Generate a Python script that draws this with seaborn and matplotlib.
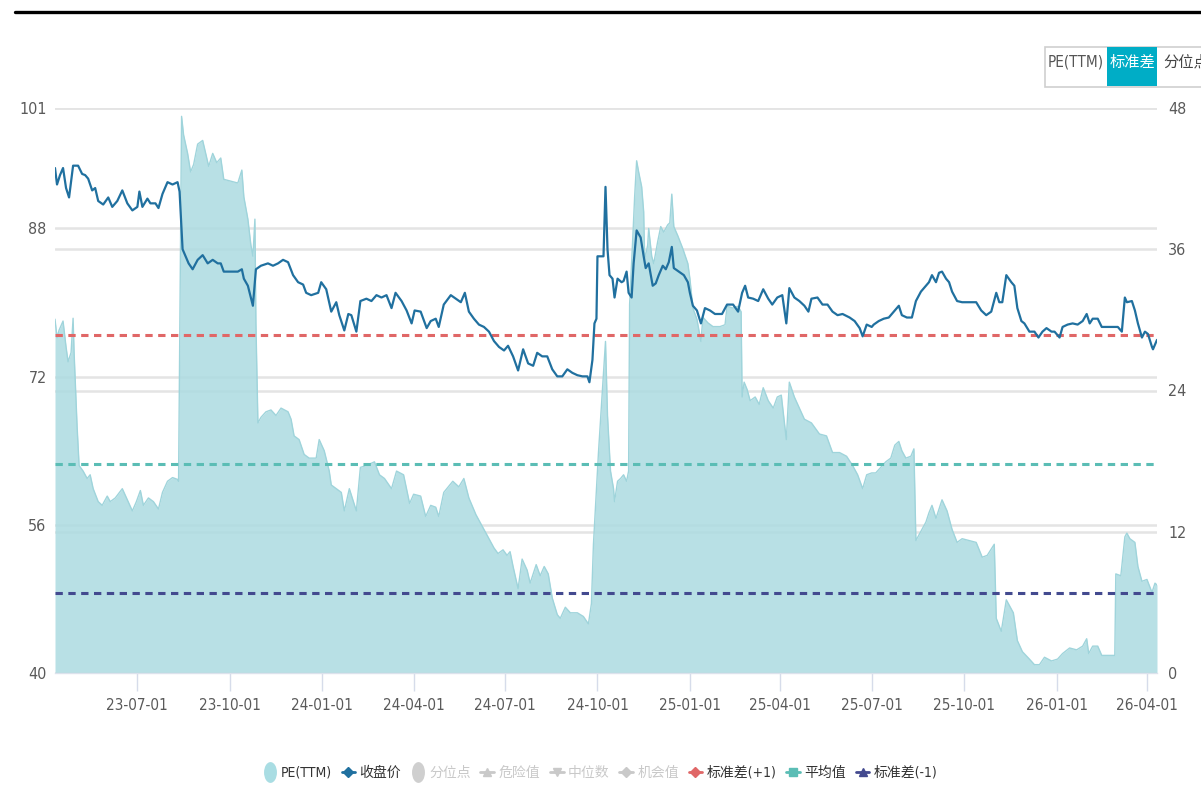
import matplotlib
matplotlib.use("Agg")
import matplotlib.pyplot as plt
import matplotlib.dates as mdates
from matplotlib.lines import Line2D
from matplotlib.patches import Rectangle
from matplotlib.path import Path
from matplotlib.transforms import Affine2D, blended_transform_factory
import seaborn as sns
import pandas as pd

sns.set_theme(style="white")
plt.rcParams["font.family"] = ["DejaVu Sans", "Noto Sans CJK SC"]
plt.rcParams["font.stretch"] = "condensed"

# ---------------- data ----------------
pe_dates = [
    "2023-04-10", "2023-04-12", "2023-04-14", "2023-04-18", "2023-04-21", "2023-04-23", "2023-04-26",
    "2023-04-28", "2023-04-29", "2023-05-02", "2023-05-04", "2023-05-08", "2023-05-12", "2023-05-15",
    "2023-05-18", "2023-05-23", "2023-05-27", "2023-06-01", "2023-06-04", "2023-06-09", "2023-06-16",
    "2023-06-21", "2023-06-26", "2023-06-30", "2023-07-04", "2023-07-07", "2023-07-12", "2023-07-17",
    "2023-07-22", "2023-07-26", "2023-07-31", "2023-08-05", "2023-08-10", "2023-08-11", "2023-08-14",
    "2023-08-16", "2023-08-20", "2023-08-23", "2023-08-26", "2023-08-30", "2023-09-04", "2023-09-07",
    "2023-09-10", "2023-09-14", "2023-09-18", "2023-09-22", "2023-09-25", "2023-10-02", "2023-10-09",
    "2023-10-13", "2023-10-15", "2023-10-19", "2023-10-22", "2023-10-24", "2023-10-26", "2023-10-27",
    "2023-10-29", "2023-11-01", "2023-11-06", "2023-11-11", "2023-11-16", "2023-11-21", "2023-11-28",
    "2023-12-01", "2023-12-04", "2023-12-09", "2023-12-14", "2023-12-19", "2023-12-26", "2023-12-29",
    "2024-01-03", "2024-01-08", "2024-01-10", "2024-01-20", "2024-01-23", "2024-01-28", "2024-02-04",
    "2024-02-08", "2024-02-14", "2024-02-22", "2024-02-27", "2024-03-03", "2024-03-10", "2024-03-15",
    "2024-03-22", "2024-03-28", "2024-04-01", "2024-04-08", "2024-04-13", "2024-04-18", "2024-04-23",
    "2024-04-26", "2024-05-01", "2024-05-10", "2024-05-16", "2024-05-21", "2024-05-26", "2024-06-02",
    "2024-06-07", "2024-06-14", "2024-06-20", "2024-06-24", "2024-06-29", "2024-07-03", "2024-07-06",
    "2024-07-09", "2024-07-14", "2024-07-18", "2024-07-23", "2024-07-26", "2024-08-01", "2024-08-05",
    "2024-08-09", "2024-08-13", "2024-08-17", "2024-08-22", "2024-08-25", "2024-08-30", "2024-09-04",
    "2024-09-11", "2024-09-17", "2024-09-22", "2024-09-25", "2024-09-27", "2024-10-02", "2024-10-06",
    "2024-10-09", "2024-10-11", "2024-10-14", "2024-10-17", "2024-10-18", "2024-10-21", "2024-10-24",
    "2024-10-27", "2024-10-30", "2024-11-01", "2024-11-02", "2024-11-05", "2024-11-07", "2024-11-09",
    "2024-11-11", "2024-11-14", "2024-11-16", "2024-11-17", "2024-11-20", "2024-11-21", "2024-11-24",
    "2024-11-26", "2024-11-30", "2024-12-03", "2024-12-06", "2024-12-10", "2024-12-12", "2024-12-14",
    "2024-12-16", "2024-12-20", "2024-12-25", "2024-12-30", "2025-01-01", "2025-01-04", "2025-01-08",
    "2025-01-12", "2025-01-14", "2025-01-19", "2025-01-24", "2025-01-31", "2025-02-05", "2025-02-07",
    "2025-02-13", "2025-02-18", "2025-02-21", "2025-02-22", "2025-02-24", "2025-02-27", "2025-03-02",
    "2025-03-07", "2025-03-11", "2025-03-15", "2025-03-20", "2025-03-25", "2025-03-29", "2025-04-02",
    "2025-04-07", "2025-04-10", "2025-04-15", "2025-04-20", "2025-04-25", "2025-05-02", "2025-05-10",
    "2025-05-17", "2025-05-23", "2025-05-30", "2025-06-06", "2025-06-12", "2025-06-17", "2025-06-22",
    "2025-06-26", "2025-07-01", "2025-07-05", "2025-07-10", "2025-07-15", "2025-07-20", "2025-07-24",
    "2025-07-28", "2025-07-31", "2025-08-04", "2025-08-09", "2025-08-12", "2025-08-14", "2025-08-19",
    "2025-08-24", "2025-08-27", "2025-08-30", "2025-09-03", "2025-09-09", "2025-09-14", "2025-09-19",
    "2025-09-24", "2025-09-29", "2025-10-06", "2025-10-13", "2025-10-19", "2025-10-24", "2025-10-31",
    "2025-11-02", "2025-11-07", "2025-11-12", "2025-11-15", "2025-11-19", "2025-11-23", "2025-11-28",
    "2025-12-05", "2025-12-10", "2025-12-15", "2025-12-20", "2025-12-27", "2026-01-02", "2026-01-07",
    "2026-01-14", "2026-01-21", "2026-01-27", "2026-01-31", "2026-02-02", "2026-02-06", "2026-02-11",
    "2026-02-15", "2026-02-23", "2026-02-28", "2026-03-01", "2026-03-06", "2026-03-10", "2026-03-12",
    "2026-03-15", "2026-03-20", "2026-03-23", "2026-03-27", "2026-04-01", "2026-04-06", "2026-04-09",
    "2026-04-11",
]
pe_values = [
    78.2, 76.2, 77.0, 78.0, 75.2, 73.6, 74.6,
    78.3, 74.6, 66.6, 62.4, 61.8, 61.0, 61.4,
    59.9, 58.5, 58.1, 59.1, 58.5, 58.9, 59.9,
    58.7, 57.5, 58.5, 59.7, 58.1, 58.9, 58.5,
    57.7, 59.5, 60.7, 61.1, 60.9, 60.7, 100.1,
    98.1, 96.1, 94.1, 94.9, 97.1, 97.5, 96.1,
    94.7, 96.1, 95.1, 95.6, 93.3, 93.1, 92.9,
    94.3, 91.4, 89.0, 86.2, 85.0, 89.0, 77.8,
    67.0, 67.6, 68.2, 68.4, 67.8, 68.6, 68.2,
    67.4, 65.6, 65.2, 63.6, 63.2, 63.2, 65.2,
    64.0, 61.8, 60.3, 59.5, 57.5, 59.9, 57.5,
    62.2, 62.4, 62.8, 61.4, 61.0, 59.9, 61.8,
    61.4, 58.3, 59.3, 59.1, 56.9, 58.1, 57.9,
    56.9, 59.5, 60.7, 60.1, 61.0, 58.9, 57.1,
    56.1, 54.7, 53.5, 52.9, 53.3, 52.7, 53.1,
    51.5, 49.1, 52.3, 51.1, 49.7, 51.7, 50.5,
    51.5, 50.7, 48.1, 46.3, 45.9, 47.1, 46.5,
    46.5, 46.1, 45.3, 47.5, 53.9, 63.8, 70.6,
    75.8, 67.8, 61.8, 59.9, 58.5, 60.7, 61.0,
    61.4, 60.7, 61.8, 79.8, 86.6, 91.4, 95.3,
    94.1, 92.5, 89.8, 84.6, 86.2, 88.0, 85.0,
    84.2, 86.6, 88.2, 87.6, 88.4, 88.6, 91.7,
    88.2, 87.2, 85.8, 84.2, 82.6, 79.4, 78.2,
    75.8, 78.4, 77.8, 77.4, 77.4, 77.6, 79.6,
    79.4, 79.6, 79.0, 69.8, 71.4, 70.6, 69.4,
    69.8, 69.0, 70.8, 69.4, 68.6, 69.8, 70.0,
    65.2, 71.4, 69.8, 68.6, 67.4, 67.0, 65.8,
    65.6, 63.8, 63.8, 63.4, 62.4, 61.4, 59.9,
    61.4, 61.6, 61.6, 62.2, 62.8, 63.2, 64.6,
    65.0, 64.0, 63.2, 63.4, 64.2, 54.3, 55.3,
    56.3, 57.3, 58.1, 56.7, 58.7, 57.5, 55.5,
    54.1, 54.5, 54.3, 54.1, 52.5, 52.7, 53.9,
    45.9, 44.5, 47.9, 47.3, 46.5, 43.5, 42.3,
    41.5, 40.9, 40.9, 41.7, 41.3, 41.5, 42.1,
    42.7, 42.5, 42.9, 43.7, 42.1, 42.9, 42.9,
    41.9, 41.9, 41.9, 50.7, 50.5, 54.7, 55.1,
    54.5, 54.1, 51.5, 49.9, 50.1, 48.7, 49.7,
    49.5,
]

price_dates = [
    "2023-04-10", "2023-04-12", "2023-04-15", "2023-04-18", "2023-04-21", "2023-04-24", "2023-04-28",
    "2023-05-03", "2023-05-07", "2023-05-10", "2023-05-13", "2023-05-17", "2023-05-20", "2023-05-23",
    "2023-05-28", "2023-06-02", "2023-06-06", "2023-06-11", "2023-06-16", "2023-06-21", "2023-06-26",
    "2023-07-01", "2023-07-03", "2023-07-06", "2023-07-11", "2023-07-14", "2023-07-19", "2023-07-22",
    "2023-07-26", "2023-07-31", "2023-08-05", "2023-08-10", "2023-08-12", "2023-08-15", "2023-08-18",
    "2023-08-21", "2023-08-25", "2023-08-30", "2023-09-04", "2023-09-09", "2023-09-14", "2023-09-19",
    "2023-09-22", "2023-09-25", "2023-10-02", "2023-10-09", "2023-10-13", "2023-10-15", "2023-10-19",
    "2023-10-22", "2023-10-24", "2023-10-27", "2023-11-01", "2023-11-08", "2023-11-13", "2023-11-18",
    "2023-11-23", "2023-11-28", "2023-12-03", "2023-12-08", "2023-12-13", "2023-12-16", "2023-12-21",
    "2023-12-28", "2023-12-31", "2024-01-05", "2024-01-10", "2024-01-15", "2024-01-18", "2024-01-23",
    "2024-01-27", "2024-01-30", "2024-02-04", "2024-02-08", "2024-02-14", "2024-02-19", "2024-02-24",
    "2024-02-29", "2024-03-05", "2024-03-10", "2024-03-14", "2024-03-20", "2024-03-25", "2024-03-30",
    "2024-04-02", "2024-04-08", "2024-04-14", "2024-04-18", "2024-04-23", "2024-04-26", "2024-05-01",
    "2024-05-08", "2024-05-13", "2024-05-18", "2024-05-22", "2024-05-26", "2024-05-31", "2024-06-05",
    "2024-06-10", "2024-06-15", "2024-06-20", "2024-06-25", "2024-06-30", "2024-07-04", "2024-07-09",
    "2024-07-14", "2024-07-19", "2024-07-24", "2024-07-29", "2024-08-02", "2024-08-07", "2024-08-12",
    "2024-08-17", "2024-08-22", "2024-08-27", "2024-09-01", "2024-09-06", "2024-09-11", "2024-09-16",
    "2024-09-21", "2024-09-23", "2024-09-26", "2024-09-28", "2024-09-30", "2024-10-01", "2024-10-07",
    "2024-10-09", "2024-10-11", "2024-10-13", "2024-10-16", "2024-10-18", "2024-10-21", "2024-10-25",
    "2024-10-27", "2024-10-30", "2024-11-01", "2024-11-04", "2024-11-06", "2024-11-09", "2024-11-13",
    "2024-11-16", "2024-11-18", "2024-11-21", "2024-11-25", "2024-11-28", "2024-12-01", "2024-12-05",
    "2024-12-08", "2024-12-11", "2024-12-14", "2024-12-16", "2024-12-21", "2024-12-26", "2024-12-30",
    "2025-01-01", "2025-01-04", "2025-01-08", "2025-01-12", "2025-01-16", "2025-01-21", "2025-01-26",
    "2025-02-02", "2025-02-07", "2025-02-13", "2025-02-18", "2025-02-22", "2025-02-25", "2025-02-28",
    "2025-03-05", "2025-03-10", "2025-03-15", "2025-03-20", "2025-03-24", "2025-03-29", "2025-04-03",
    "2025-04-07", "2025-04-10", "2025-04-15", "2025-04-20", "2025-04-25", "2025-04-29", "2025-05-02",
    "2025-05-08", "2025-05-13", "2025-05-18", "2025-05-23", "2025-05-28", "2025-06-02", "2025-06-09",
    "2025-06-14", "2025-06-19", "2025-06-22", "2025-06-26", "2025-07-01", "2025-07-03", "2025-07-08",
    "2025-07-13", "2025-07-18", "2025-07-23", "2025-07-28", "2025-07-31", "2025-08-05", "2025-08-10",
    "2025-08-14", "2025-08-19", "2025-08-24", "2025-08-27", "2025-08-30", "2025-09-03", "2025-09-06",
    "2025-09-09", "2025-09-13", "2025-09-16", "2025-09-19", "2025-09-24", "2025-09-29", "2025-10-06",
    "2025-10-13", "2025-10-18", "2025-10-23", "2025-10-28", "2025-11-02", "2025-11-05", "2025-11-08",
    "2025-11-12", "2025-11-17", "2025-11-20", "2025-11-23", "2025-11-27", "2025-11-30", "2025-12-05",
    "2025-12-10", "2025-12-14", "2025-12-18", "2025-12-22", "2025-12-27", "2025-12-30", "2026-01-04",
    "2026-01-07", "2026-01-12", "2026-01-17", "2026-01-22", "2026-01-27", "2026-01-31", "2026-02-03",
    "2026-02-06", "2026-02-11", "2026-02-15", "2026-02-23", "2026-03-03", "2026-03-07", "2026-03-10",
    "2026-03-12", "2026-03-17", "2026-03-20", "2026-03-23", "2026-03-27", "2026-03-30", "2026-04-02",
    "2026-04-06", "2026-04-07", "2026-04-11",
]
price_values = [
    42.9, 41.5, 42.3, 42.9, 41.2, 40.4, 43.1,
    43.1, 42.4, 42.3, 42.0, 41.0, 41.2, 40.1,
    39.8, 40.4, 39.6, 40.1, 41.0, 39.9, 39.3,
    39.6, 40.9, 39.6, 40.3, 39.9, 39.9, 39.5,
    40.7, 41.7, 41.5, 41.7, 40.9, 36.0, 35.4,
    34.8, 34.3, 35.1, 35.5, 34.8, 35.1, 34.8,
    34.8, 34.1, 34.1, 34.1, 34.3, 33.5, 32.9,
    31.9, 31.2, 34.3, 34.6, 34.8, 34.6, 34.8,
    35.1, 34.9, 33.8, 33.2, 33.0, 32.3, 32.1,
    32.3, 33.2, 32.6, 30.7, 31.5, 30.4, 29.1,
    30.5, 30.4, 29.0, 31.6, 31.8, 31.6, 32.1,
    31.9, 32.1, 31.0, 32.3, 31.6, 30.8, 29.7,
    30.8, 30.7, 29.3, 29.9, 30.1, 29.4, 31.3,
    32.1, 31.8, 31.5, 32.3, 30.7, 30.1, 29.6,
    29.4, 29.0, 28.2, 27.7, 27.4, 27.8, 26.9,
    25.7, 27.5, 26.3, 26.1, 27.2, 26.9, 26.9,
    25.8, 25.2, 25.2, 25.8, 25.5, 25.3, 25.2,
    25.2, 24.7, 26.6, 29.7, 30.1, 35.4, 35.4,
    41.3, 36.0, 33.8, 33.5, 31.9, 33.5, 33.2,
    33.3, 34.1, 32.3, 31.9, 34.8, 37.6, 37.0,
    35.4, 34.4, 34.8, 32.9, 33.1, 33.8, 34.6,
    34.3, 34.9, 36.2, 34.4, 34.1, 33.8, 33.2,
    32.3, 31.2, 30.8, 29.7, 31.0, 30.8, 30.5,
    30.5, 31.3, 31.3, 30.7, 32.3, 32.9, 31.9,
    31.8, 31.6, 32.6, 31.8, 31.3, 31.9, 32.1,
    29.7, 32.7, 31.9, 31.6, 31.2, 30.7, 31.8,
    31.9, 31.3, 31.3, 30.7, 30.4, 30.5, 30.2,
    29.9, 29.3, 28.6, 29.6, 29.4, 29.6, 29.9,
    30.1, 30.2, 30.7, 31.2, 30.4, 30.2, 30.2,
    31.6, 32.4, 32.9, 33.2, 33.8, 33.2, 34.0,
    34.1, 33.5, 33.2, 32.4, 31.6, 31.5, 31.5,
    31.5, 30.8, 30.4, 30.7, 32.3, 31.5, 31.5,
    33.8, 33.2, 32.9, 31.0, 29.9, 29.7, 29.0,
    29.0, 28.5, 29.0, 29.3, 29.0, 29.0, 28.5,
    29.4, 29.6, 29.7, 29.6, 29.9, 30.5, 29.7,
    30.1, 30.1, 29.4, 29.4, 29.4, 29.0, 31.9,
    31.5, 31.6, 30.8, 29.7, 28.5, 29.0, 28.8,
    27.7, 27.5, 28.3,
]

pe_std_plus = 76.5
pe_mean = 62.6
pe_std_minus = 48.6

left_ticks = [40, 56, 72, 88, 101]
right_ticks = [0, 12, 24, 36, 48]
x_tick_dates = ["2023-07-01", "2023-10-01", "2024-01-01", "2024-04-01", "2024-07-01", "2024-10-01",
                "2025-01-01", "2025-04-01", "2025-07-01", "2025-10-01", "2026-01-01", "2026-04-01"]
x_range = ["2023-04-10", "2026-04-11"]
legend_labels = ["PE(TTM)", "收盘价", "分位点", "危险值", "中位数", "机会值", "标准差(+1)", "平均值", "标准差(-1)"]
tab_labels = ["PE(TTM)", "标准差", "分位点"]

# ---------------- styling ----------------
C_AREA = "#acdbe1"
C_AREA_EDGE = "#9fd4db"
C_PRICE = "#20709f"
C_RED = "#e06767"
C_TEAL = "#5bbdb5"
C_NAVY = "#434a8f"
C_GRID = "#e4e4e4"
C_TICK = "#5a5a5a"
C_OFF = "#c9c9c9"

pe_df = pd.DataFrame({"date": pd.to_datetime(pe_dates), "pe": pe_values})
price_df = pd.DataFrame({"date": pd.to_datetime(price_dates), "price": price_values})

W, H = 1201, 790
fig = plt.figure(figsize=(W / 100, H / 100), dpi=100)
fig.patch.set_facecolor("white")
ax = fig.add_axes([55 / W, 1 - 673 / H, 1102 / W, 565 / H])
ax2 = ax.twinx()

# grid lines for both scales (drawn behind the area)
ax.set_ylim(left_ticks[0], left_ticks[-1])
ax2.set_ylim(right_ticks[0], right_ticks[-1])
ax.set_yticks(left_ticks)
ax2.set_yticks(right_ticks)
ax.grid(axis="y", color=C_GRID, lw=1.8, zorder=0)
ax.grid(axis="x", visible=False)
ax2.grid(False)
btrans = blended_transform_factory(ax.transAxes, ax2.transData)
for v in right_ticks[1:]:
    ax.plot([0, 1], [v, v], transform=btrans, color=C_GRID, lw=1.8, zorder=0)

# PE area
ax.fill_between(pe_df["date"], left_ticks[0], pe_df["pe"], color=C_AREA, alpha=0.85, lw=0, zorder=2)
sns.lineplot(data=pe_df, x="date", y="pe", ax=ax, color=C_AREA_EDGE, lw=1.0, zorder=3)

# std lines
dash = (0, (2.4, 1.8))
for val, col in [(pe_std_plus, C_RED), (pe_mean, C_TEAL), (pe_std_minus, C_NAVY)]:
    ax.axhline(val, color=col, lw=2.2, ls=dash, zorder=4)

# price line
sns.lineplot(data=price_df, x="date", y="price", ax=ax2, color=C_PRICE, lw=1.6)

# axes cosmetics
ax.set_xlim(pd.Timestamp(x_range[0]), pd.Timestamp(x_range[1]))
ax.set_xticks(pd.to_datetime(x_tick_dates))
ax.xaxis.set_major_formatter(mdates.DateFormatter("%y-%m-%d"))
ax.set_xlabel("")
ax.set_ylabel("")
ax2.set_xlabel("")
ax2.set_ylabel("")
for sp in ["top", "left", "right"]:
    ax.spines[sp].set_visible(False)
    ax2.spines[sp].set_visible(False)
ax2.spines["bottom"].set_visible(False)
ax.spines["bottom"].set_color("#dce2ec")
ax.spines["bottom"].set_linewidth(1.0)
ax.tick_params(axis="x", length=13, width=1, color="#d6dcea", pad=5, labelsize=11, labelcolor=C_TICK,
               direction="out", bottom=True)
ax.tick_params(axis="y", length=0, pad=6, labelsize=11.5, labelcolor=C_TICK, left=False)
ax2.tick_params(axis="y", length=0, pad=8, labelsize=11.5, labelcolor=C_TICK, right=False)

# top rule
fig.add_artist(Line2D([15 / W, 1.0], [1 - 12 / H, 1 - 12 / H], transform=fig.transFigure,
                      color="black", lw=2.4))

# tab buttons top-right
fig.add_artist(Rectangle((1045 / W, 1 - 87 / H), (W - 1045) / W + 0.01, 40 / H, transform=fig.transFigure,
                         facecolor="white", edgecolor="#cfcfcf", lw=1.2))
fig.add_artist(Rectangle((1107 / W, 1 - 86 / H), 50 / W, 39 / H, transform=fig.transFigure,
                         facecolor="#00adc6", edgecolor="none"))
fig.text(1076 / W, 1 - 62 / H, tab_labels[0], ha="center", va="center", fontsize=11, color="#555555")
fig.text(1132 / W, 1 - 62 / H, tab_labels[1], ha="center", va="center", fontsize=11, color="white")
fig.text(1163 / W, 1 - 62 / H, tab_labels[2], ha="left", va="center", fontsize=11, color="#444444")

# legend
ell = Path.unit_circle().transformed(Affine2D().scale(0.62, 1.0))
handles = [
    Line2D([], [], ls="none", marker=ell, markersize=15, markerfacecolor="#a9dde3", markeredgecolor="none"),
    Line2D([], [], color=C_PRICE, lw=2.0, marker="D", markersize=5.5, markeredgecolor=C_PRICE),
    Line2D([], [], ls="none", marker=ell, markersize=15, markerfacecolor="#cfcfcf", markeredgecolor="none"),
    Line2D([], [], color=C_OFF, lw=2.0, marker="^", markersize=5.5, markeredgecolor=C_OFF),
    Line2D([], [], color=C_OFF, lw=2.0, marker="v", markersize=5.5, markeredgecolor=C_OFF),
    Line2D([], [], color=C_OFF, lw=2.0, marker="D", markersize=5, markeredgecolor=C_OFF),
    Line2D([], [], color=C_RED, lw=2.0, marker="D", markersize=5, markeredgecolor=C_RED),
    Line2D([], [], color=C_TEAL, lw=2.0, marker="s", markersize=5.5, markeredgecolor=C_TEAL),
    Line2D([], [], color=C_NAVY, lw=2.0, marker="^", markersize=6, markeredgecolor=C_NAVY),
]
leg = fig.legend(handles, legend_labels, loc="center", bbox_to_anchor=(600 / W, 1 - 773 / H), ncol=9,
                 frameon=False, fontsize=10, handlelength=1.0, handletextpad=0.3, columnspacing=0.7)
text_colors = ["#333333", "#333333", C_OFF, C_OFF, C_OFF, C_OFF, "#333333", "#333333", "#333333"]
for t, c in zip(leg.get_texts(), text_colors):
    t.set_color(c)

fig.savefig("out.png", dpi=100, facecolor="white")
